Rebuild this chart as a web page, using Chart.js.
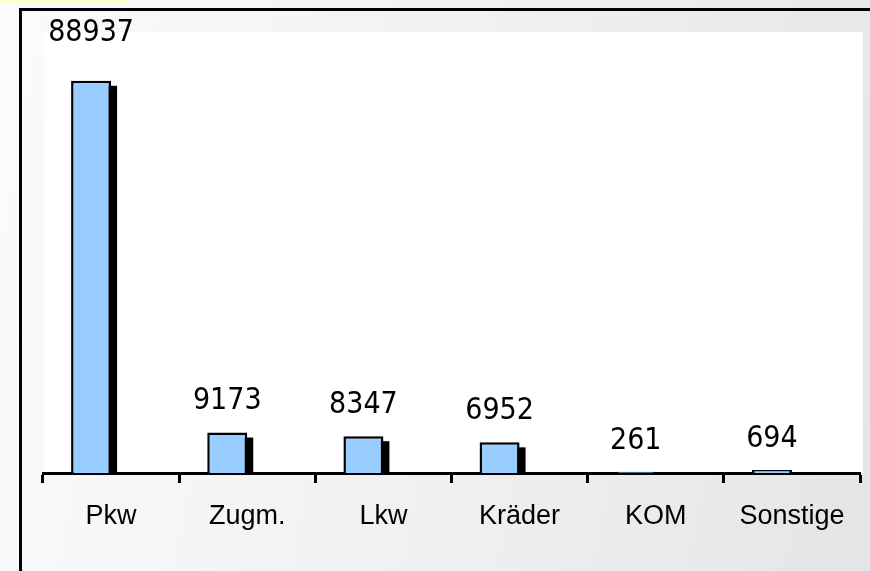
<!DOCTYPE html>
<html lang="de">
<head>
    <meta charset="UTF-8">
    <title>Fahrzeugbestand</title>
    <script src="https://cdn.jsdelivr.net/npm/chart.js"></script>
    <style>
        body { margin: 0; }
        #page {
            position: relative; width: 870px; height: 571px; overflow: hidden;
            background: linear-gradient(100deg, #fbfbfb 0%, #f1f1f1 50%, #e5e5e5 100%);
        }
        #strip { position: absolute; left: 0; top: 0; width: 127px; height: 3px; background: #ffffcc; }
        #frame { position: absolute; left: 19px; top: 8px; width: 900px; height: 600px;
                 border-top: 3px solid #000; border-left: 3px solid #000; }
        #wrap { position: absolute; left: 0; top: 0; width: 870px; height: 571px; }
    </style>
</head>
<body>
<div id="page">
    <div id="strip"></div>
    <div id="frame"></div>
    <div id="wrap"><canvas id="fzChart"></canvas></div>
</div>
<script>
    const categories = ['Pkw', 'Zugm.', 'Lkw', 'Kräder', 'KOM', 'Sonstige'];
    const counts = [88937, 9173, 8347, 6952, 261, 694];
    const spacer = [null, null, null, null, null, null];

    // white plot background, black drop shadow behind the bars, value labels
    const plotStyle = {
        id: 'plotStyle',
        beforeDraw(chart) {
            const a = chart.chartArea, ctx = chart.ctx;
            ctx.save();
            ctx.fillStyle = '#ffffff';
            ctx.fillRect(a.left + 1, a.top, a.right - a.left + 2, a.bottom - a.top);
            ctx.restore();
        },
        beforeDatasetsDraw(chart) {
            const a = chart.chartArea, ctx = chart.ctx;
            ctx.save();
            ctx.beginPath();
            ctx.rect(a.left, a.top, a.right - a.left, a.bottom - a.top);
            ctx.clip();
            ctx.fillStyle = '#000000';
            chart.getDatasetMeta(0).data.forEach(bar => {
                const p = bar.getProps(['x', 'y', 'base', 'width'], true);
                ctx.fillRect(p.x - p.width / 2 + 6, p.y + 5, p.width, p.base - p.y);
            });
            ctx.restore();
        },
        afterDatasetsDraw(chart) {
            const ctx = chart.ctx, top = chart.chartArea.top;
            ctx.save();
            ctx.fillStyle = '#000';
            ctx.font = '30px "Liberation Sans Narrow", "DejaVu Sans Condensed", sans-serif';
            ctx.textAlign = 'center';
            ctx.textBaseline = 'middle';
            chart.getDatasetMeta(0).data.forEach((bar, i) => {
                let y = bar.y - 31;
                if (y < top + 30) y = top + 1;
                ctx.fillText(String(counts[i]), bar.x, y);
            });
            ctx.restore();
        }
    };

    new Chart(document.getElementById('fzChart'), {
        type: 'bar',
        data: {
            labels: categories,
            datasets: [{
                data: counts,
                backgroundColor: '#99ccff',
                borderColor: '#000000',
                borderWidth: 2.5,
                categoryPercentage: 0.5875,
                barPercentage: 1.0
            }, {
                data: spacer,
                categoryPercentage: 0.5875,
                barPercentage: 1.0
            }]
        },
        options: {
            responsive: true,
            maintainAspectRatio: false,
            animation: false,
            layout: { padding: { left: 43, right: 10, top: 32, bottom: 0 } },
            plugins: { legend: { display: false }, tooltip: { enabled: false } },
            scales: {
                y: { display: false, min: 0, max: 100000 },
                x: {
                    z: 1,
                    afterFit(scale) { scale.height = 98; },
                    border: { display: true, color: '#000', width: 3 },
                    grid: {
                        offset: true,
                        drawOnChartArea: false,
                        drawTicks: true,
                        tickLength: 10,
                        tickWidth: 3,
                        tickColor: '#000'
                    },
                    ticks: {
                        color: '#000',
                        padding: 17,
                        font: { family: 'Liberation Sans, sans-serif', size: 27 }
                    }
                }
            }
        },
        plugins: [plotStyle]
    });
</script>
</body>
</html>
